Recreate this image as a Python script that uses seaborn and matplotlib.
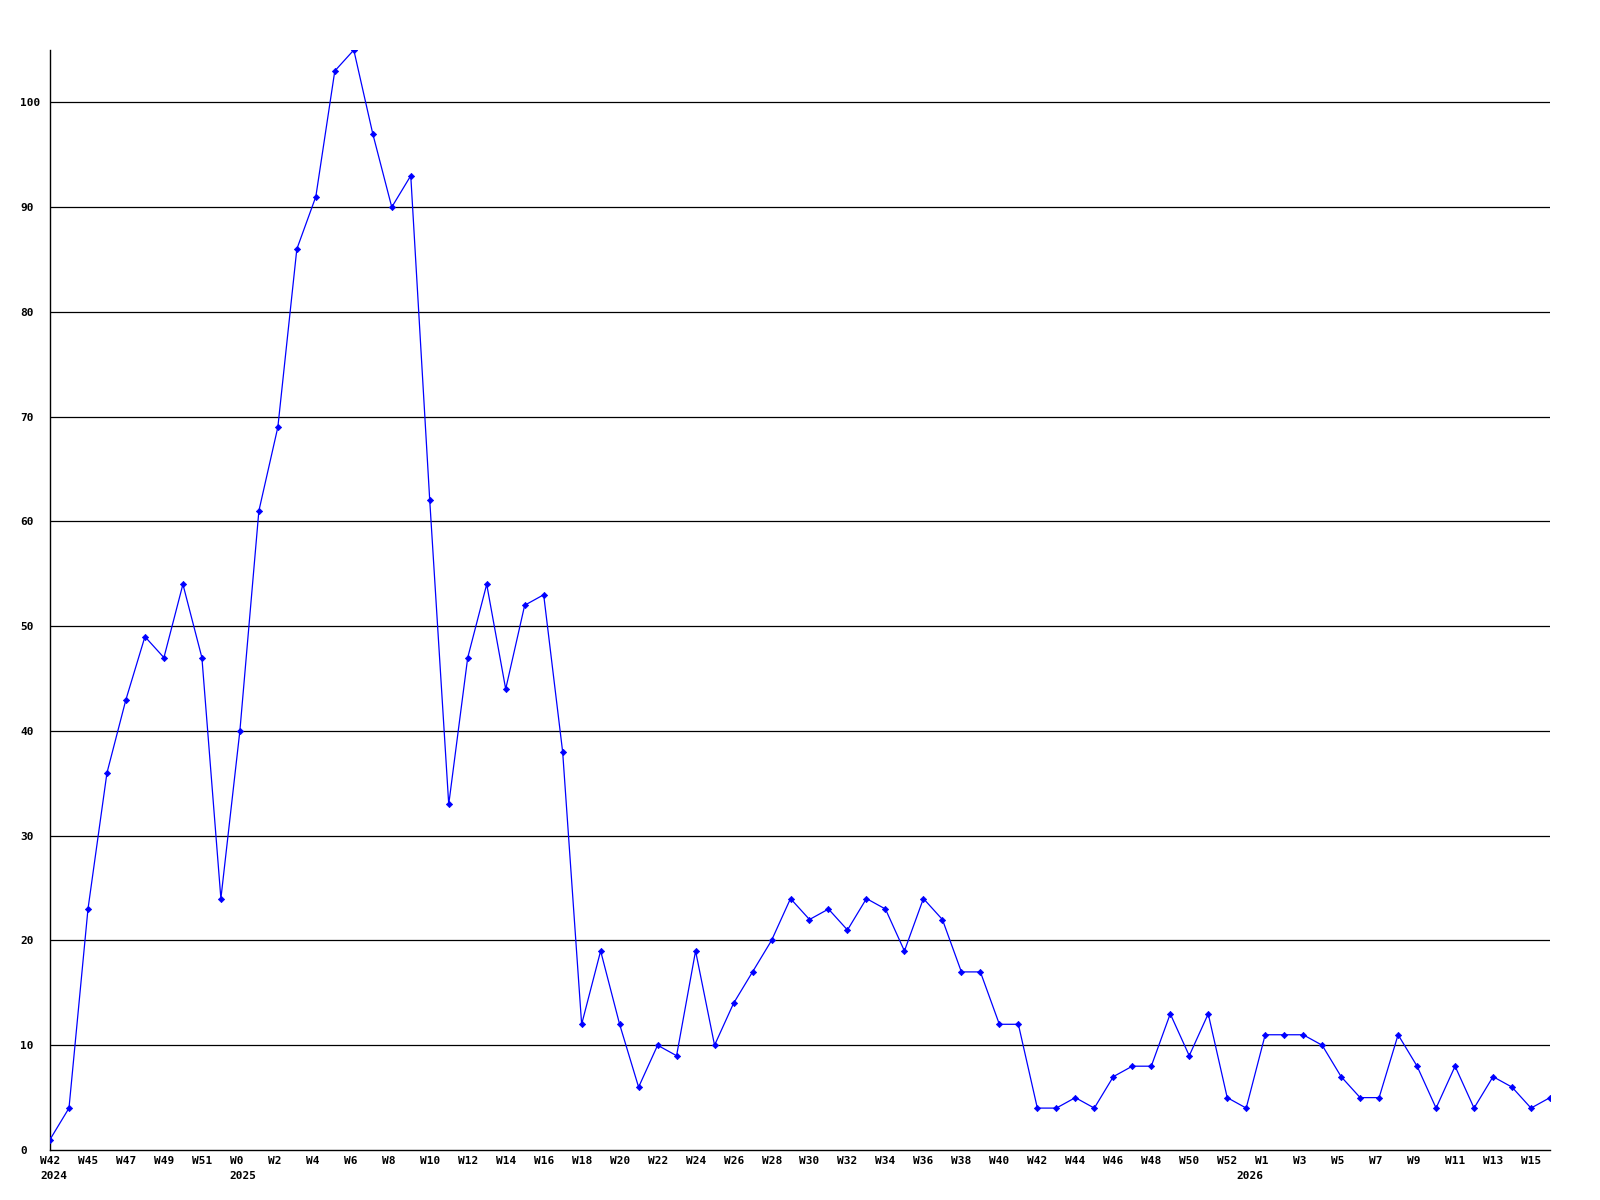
import matplotlib
matplotlib.use("Agg")
import matplotlib.pyplot as plt
import matplotlib.transforms as mtransforms
import seaborn as sns
import pandas as pd

# ---- data ----
values = [1, 4, 23, 36, 43, 49, 47, 54, 47, 24,
          40, 61, 69, 86, 91, 103, 105, 97, 90, 93,
          62, 33, 47, 54, 44, 52, 53, 38, 12, 19,
          12, 6, 10, 9, 19, 10, 14, 17, 20, 24,
          22, 23, 21, 24, 23, 19, 24, 22, 17, 17,
          12, 12, 4, 4, 5, 4, 7, 8, 8, 13,
          9, 13, 5, 4, 11, 11, 11, 10, 7, 5,
          5, 11, 8, 4, 8, 4, 7, 6, 4, 5]

tick_positions = [0, 2, 4, 6, 8, 10, 12, 14, 16, 18, 20, 22, 24, 26, 28, 30,
                  32, 34, 36, 38, 40, 42, 44, 46, 48, 50, 52, 54, 56, 58, 60,
                  62, 64, 66, 68, 70, 72, 74, 76, 78]
week_labels = ["W42", "W45", "W47", "W49", "W51", "W0", "W2", "W4", "W6", "W8",
               "W10", "W12", "W14", "W16", "W18", "W20", "W22", "W24", "W26",
               "W28", "W30", "W32", "W34", "W36", "W38", "W40", "W42", "W44",
               "W46", "W48", "W50", "W52", "W1", "W3", "W5", "W7", "W9",
               "W11", "W13", "W15"]
year_positions = [0, 10, 63]
year_labels = ["2024", "2025", "2026"]

y_ticks = [0, 10, 20, 30, 40, 50, 60, 70, 80, 90, 100]

df = pd.DataFrame({"idx": list(range(len(values))), "value": values})

# ---- figure ----
sns.set_theme(style="white")
plt.rcParams["font.family"] = ["DejaVu Sans Mono", "DejaVu Sans"]

fig = plt.figure(figsize=(16, 12), dpi=100)
ax = fig.add_axes([50 / 1600, 1 - 1150 / 1200, 1500 / 1600, 1100 / 1200])

for yv in y_ticks[1:]:
    ax.axhline(yv, color="black", lw=0.9, zorder=1)

sns.lineplot(data=df, x="idx", y="value", sort=False, ax=ax, color="#0000ff",
             lw=0.9, marker="D", markersize=3.2, markeredgewidth=0.5,
             markeredgecolor="#0000ff", zorder=3)

ax.set_xlim(0, len(values) - 1)
ax.set_ylim(0, 105)
ax.set_xlabel("")
ax.set_ylabel("")

for s in ["top", "right"]:
    ax.spines[s].set_visible(False)
for s in ["left", "bottom"]:
    ax.spines[s].set_color("black")
    ax.spines[s].set_linewidth(1.0)

ax.xaxis.remove_overlapping_locs = False
ax.set_xticks(tick_positions)
ax.set_xticklabels(week_labels, fontsize=8, fontweight="bold", ha="left",
                   color="black")
ax.set_xticks(year_positions, minor=True)
ax.set_xticklabels(year_labels, minor=True, fontsize=8, fontweight="bold",
                   ha="left", color="black")
ax.set_yticks(y_ticks)
ax.set_yticklabels([str(v) for v in y_ticks], fontsize=8, fontweight="bold",
                   ha="left", color="black")
ax.tick_params(axis="x", which="major", length=0, pad=4, labelcolor="black")
ax.tick_params(axis="x", which="minor", length=0, pad=14.8, labelcolor="black")
ax.tick_params(axis="y", length=0, pad=21.6, labelcolor="black")

offset = mtransforms.ScaledTranslation(-10 / 100, 0, fig.dpi_scale_trans)
for lab in ax.get_xticklabels() + ax.get_xticklabels(minor=True):
    lab.set_transform(lab.get_transform() + offset)

fig.savefig("out.png", dpi=100, facecolor="white")
